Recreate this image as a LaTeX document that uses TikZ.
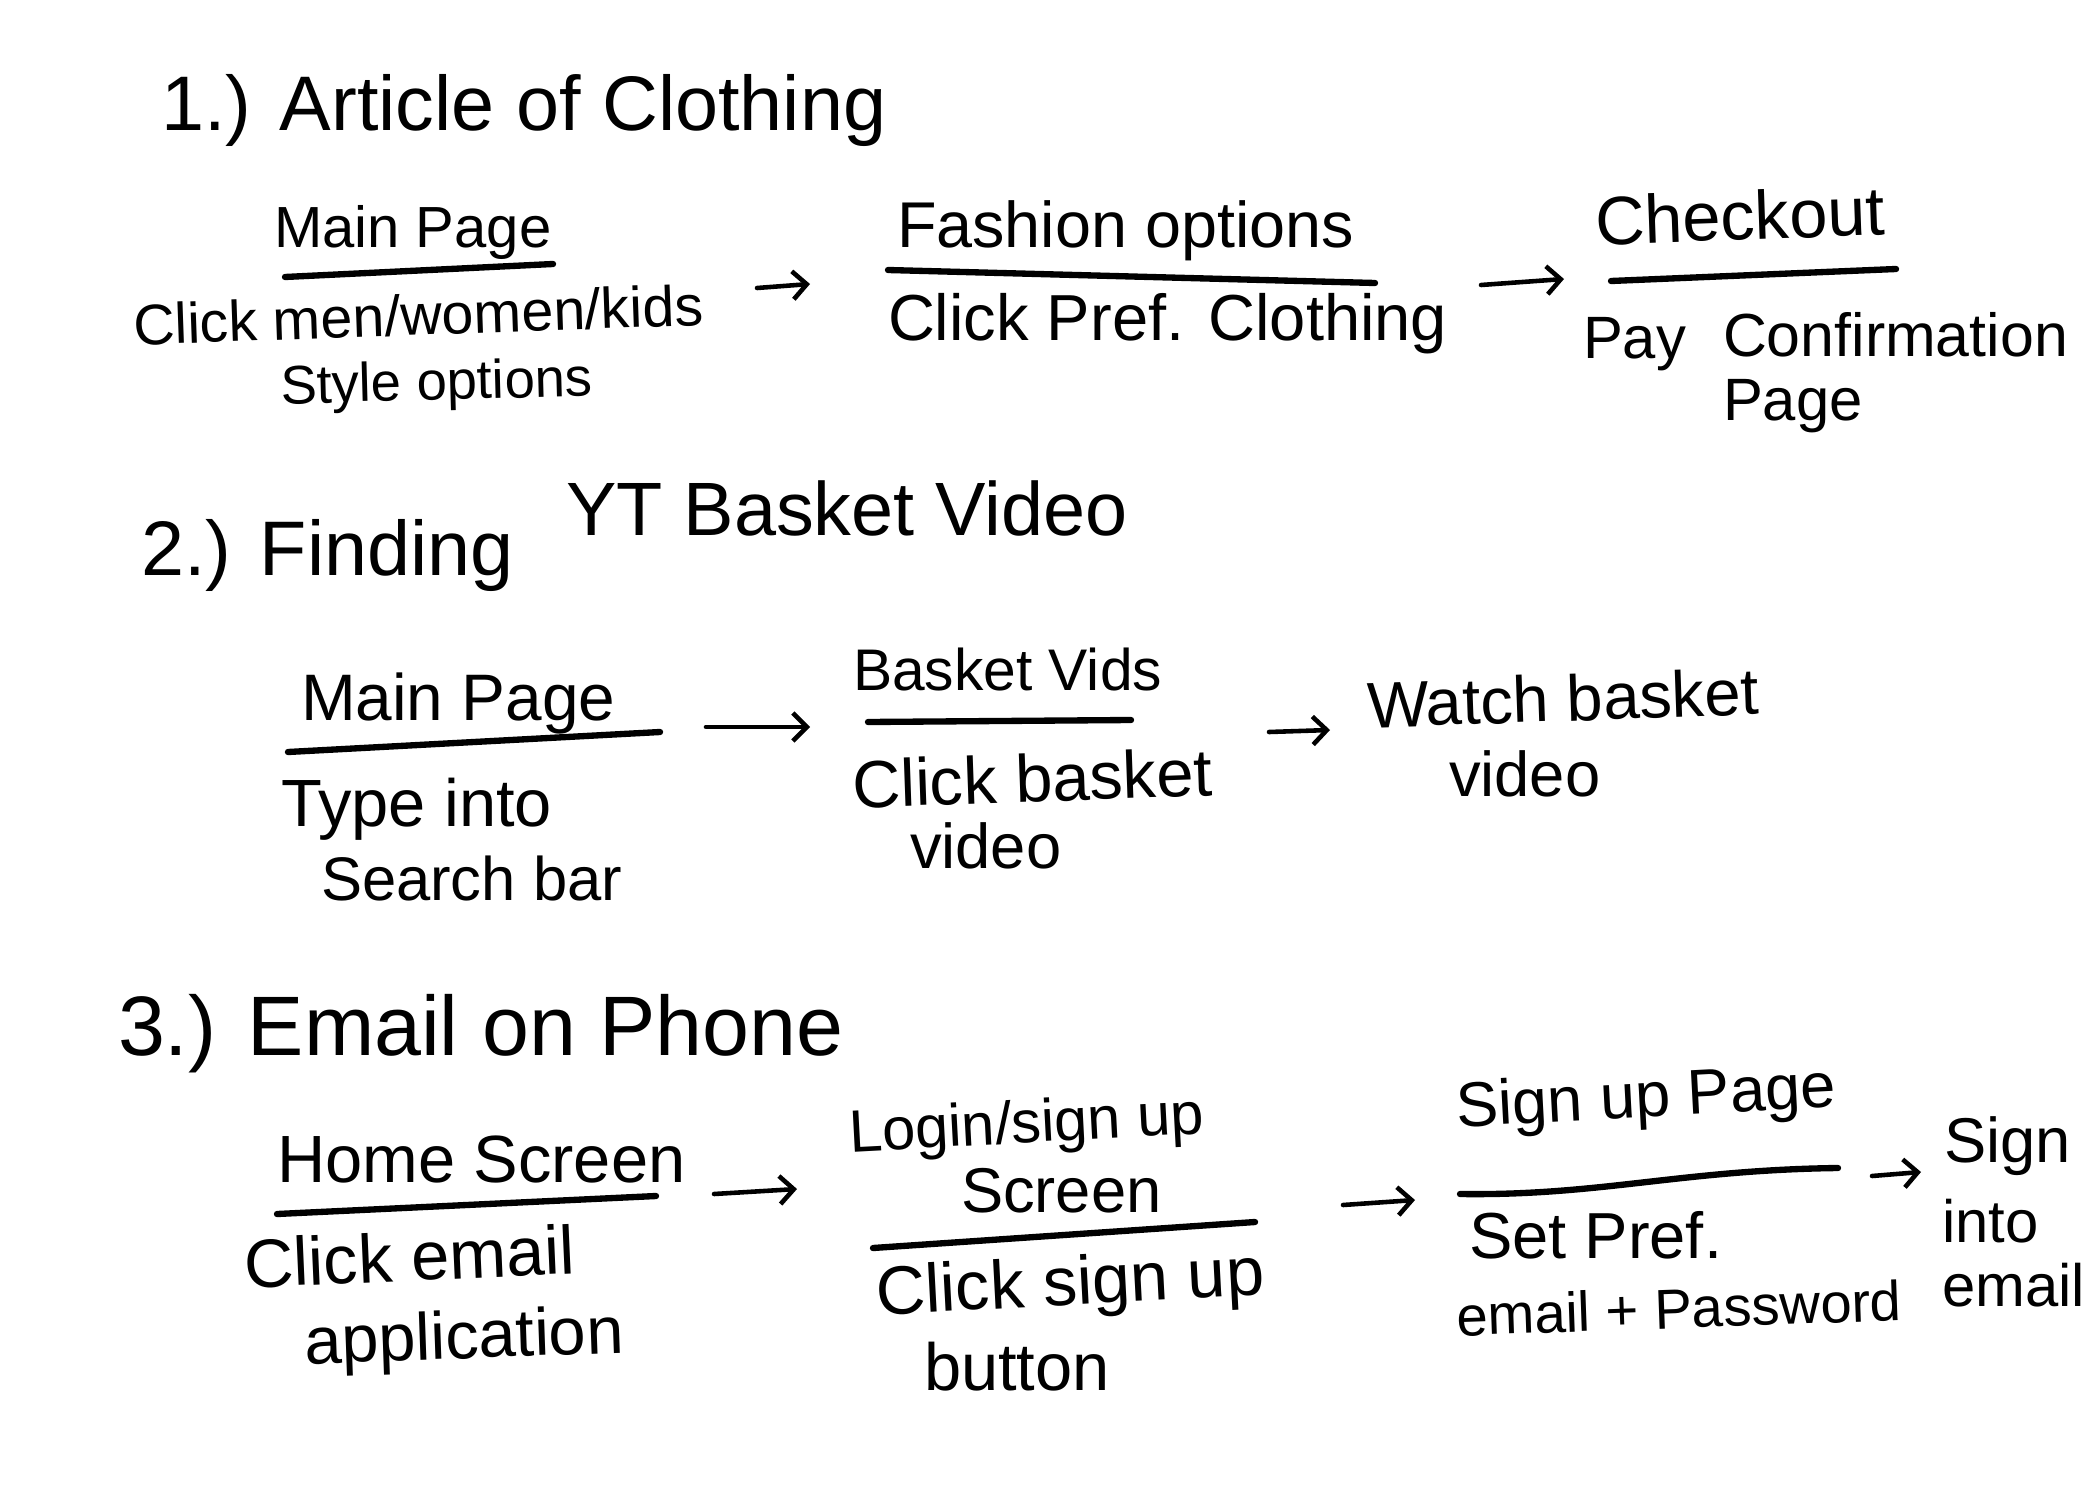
\documentclass[tikz,border=0pt]{standalone}
\usepackage{fontspec}
\setmainfont{Liberation Sans}
\usetikzlibrary{arrows.meta}
\begin{document}
\begin{tikzpicture}[x=0.01cm,y=-0.01cm,
  lbl/.style={anchor=base west,inner sep=0pt,outer sep=0pt},
  fs/.style={lbl,font=\fontsize{#1}{#1}\selectfont},
  bar/.style={line width=1.8pt,line cap=round},
  flow/.style={line width=1.3pt,line cap=round,-{Straight Barb[length=1.4mm,width=2.8mm]}}]
\fill[white] (0,0) rectangle (2100,1500);
\useasboundingbox (0,0) rectangle (2100,1500);

% ---------- 1.) Article of Clothing ----------
\node[fs=22] (t1) at (161,130) {1.) Article of Clothing};

\node[fs=16.5] (mp1) at (274,248) {Main Page};
\draw[bar] (285,277) -- (553,264);
\node[fs=16.3,rotate=2] (c1) at (134,345) {Click men/women/kids};
\node[fs=15.5,rotate=1.5] (s1) at (281,404) {Style options};

\node[fs=18.4] (f1) at (897,248) {Fashion options};
\draw[bar] (888,270) -- (1375,283);
\node[fs=18.5] (cp1) at (888,340) {Click Pref. Clothing};

\node[fs=19.5,rotate=2] (ch) at (1596,245) {Checkout};
\draw[bar] (1611,281) -- (1896,269);
\node[fs=17] (pay) at (1583,358) {Pay};
\node[fs=17.3] (conf) at (1723,356) {Confirmation};
\node[fs=17] (pg1) at (1723,420) {Page};

\coordinate (a1s) at (757,288); \coordinate (a1e) at (810,284);
\coordinate (a2s) at (1481,285); \coordinate (a2e) at (1564,279);
\draw[flow] (a1s) -- (a1e);
\draw[flow] (a2s) -- (a2e);

% ---------- 2.) Finding YT Basket Video ----------
\node[fs=22] (t2a) at (141,575) {2.) Finding};
\node[fs=21.5] (t2b) at (566,535) {YT Basket Video};

\node[fs=18.7] (mp2) at (301,720) {Main Page};
\draw[bar] (288,752) -- (660,732);
\node[fs=19] (ti) at (281,826) {Type into};
\node[fs=17.5] (sb) at (321,900) {Search bar};

\node[fs=16.7] (bv) at (853,690) {Basket Vids};
\draw[bar] (868,722) -- (1131,720);
\node[fs=19,rotate=2] (cb) at (853,808) {Click basket};
\node[fs=18] (vid1) at (910,868) {video};

\node[fs=18.5,rotate=2] (wb) at (1368,728) {Watch basket};
\node[fs=18] (vid2) at (1449,796) {video};

\coordinate (a3s) at (706,727); \coordinate (a3e) at (810,727);
\coordinate (a4s) at (1269,732); \coordinate (a4e) at (1330,730);
\draw[flow] (a3s) -- (a3e);
\draw[flow] (a4s) -- (a4e);

% ---------- 3.) Email on Phone ----------
\node[fs=24] (t3) at (118,1055) {3.) Email on Phone};

\node[fs=19] (hs) at (277,1182) {Home Screen};
\draw[bar] (277,1214) -- (656,1196);
\node[fs=19.5,rotate=2.5] (ce) at (245,1288) {Click email};
\node[fs=19,rotate=2] (app) at (305,1364) {application};

\node[fs=17,rotate=3] (ls) at (850,1152) {Login/sign up};
\node[fs=18] (scr) at (961,1212) {Screen};
\draw[bar] (873,1248) -- (1255,1222);
\node[fs=19.5,rotate=3] (csu) at (877,1315) {Click sign up};
\node[fs=19] (btn) at (924,1390) {button};

\node[fs=18,rotate=3] (sup) at (1457,1127) {Sign up Page};
\draw[bar] (1460,1194) .. controls (1600,1196) and (1680,1170) .. (1838,1168);
\node[fs=18.5] (sp) at (1469,1258) {Set Pref.};
\node[fs=16,rotate=2] (ep) at (1457,1336) {email + Password};

\node[fs=18] (sign) at (1944,1162) {Sign};
\node[fs=17] (into) at (1942,1242) {into};
\node[fs=17] (em) at (1942,1306) {email};

\coordinate (a5s) at (714,1194); \coordinate (a5e) at (797,1189);
\coordinate (a6s) at (1343,1205); \coordinate (a6e) at (1415,1200);
\coordinate (a7s) at (1872,1176); \coordinate (a7e) at (1921,1172);
\draw[flow] (a5s) -- (a5e);
\draw[flow] (a6s) -- (a6e);
\draw[flow] (a7s) -- (a7e);
\end{tikzpicture}
\end{document}
